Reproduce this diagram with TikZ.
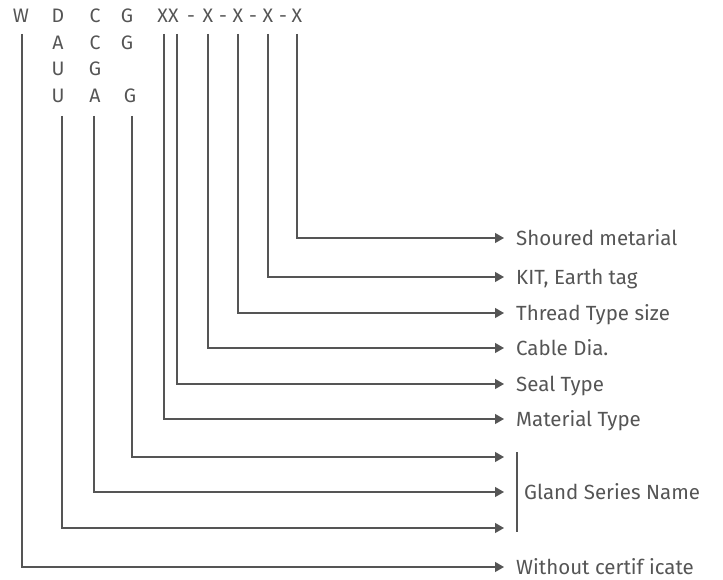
\documentclass[tikz,border=0pt]{standalone}
\usepackage{fontspec}
\setmainfont{Fira Sans}
\usetikzlibrary{arrows.meta}
\definecolor{linegray}{HTML}{555555}
\definecolor{textgray}{HTML}{555555}
\begin{document}
\begin{tikzpicture}[x=1pt,y=-1pt,
			letter/.style = {anchor=base,inner sep=0pt,text=textgray,font=\fontsize{19.5}{19.5}\selectfont},
			desc/.style = {anchor=west,inner xsep=12pt,inner ysep=0pt,text height=15pt,text depth=0pt,
				text=textgray,font=\fontsize{20.5}{20.5}\selectfont},
			link/.style = {draw=linegray,line width=1.2pt,-{Triangle[length=9pt,width=10pt]}}]
			\useasboundingbox (0,0) rectangle (723,580);
			% code letters
			\node [letter] (w) at (21,23) {W};
			\node [letter] (d1) at (58,23) {D};
			\node [letter] (c1) at (95,23) {C};
			\node [letter] (g1) at (127,23) {G};
			\node [letter] (xx) at (168,23) {XX};
			\node [letter] (h1) at (191,23) {-};
			\node [letter] (x1) at (208,23) {X};
			\node [letter] (h2) at (223,23) {-};
			\node [letter] (x2) at (238,23) {X};
			\node [letter] (h3) at (253,23) {-};
			\node [letter] (x3) at (268,23) {X};
			\node [letter] (h4) at (283,23) {-};
			\node [letter] (x4) at (297,23) {X};
			\node [letter] (d2) at (58,50) {A};
			\node [letter] (c2) at (95,50) {C};
			\node [letter] (g2) at (127,50) {G};
			\node [letter] (d3) at (58,76) {U};
			\node [letter] (c3) at (95,76) {G};
			\node [letter] (d4) at (58,103) {U};
			\node [letter] (c4) at (95,103) {A};
			\node [letter] (g4) at (130,103) {G};
			% descriptions
			\node [desc] (shoured) at (504,238) {Shoured metarial};
			\node [desc] (kit) at (504,277) {KIT, Earth tag};
			\node [desc] (thread) at (504,313) {Thread Type size};
			\node [desc] (cable) at (504,348) {Cable Dia.};
			\node [desc] (seal) at (504,384) {Seal Type};
			\node [desc] (material) at (504,419) {Material Type};
			\node [desc, inner xsep=7pt] (gland) at (517,492) {Gland Series Name};
			\node [desc] (without) at (504,567) {Without certif icate};
			\coordinate (gs1) at (504,457);
			\coordinate (gs2) at (504,492);
			\coordinate (gs3) at (504,528);
			% line tops
			\coordinate (tw) at (22,34);
			\coordinate (tm) at (164,34);
			\coordinate (ts) at (177,34);
			\coordinate (tc) at (208,34);
			\coordinate (tt) at (238,34);
			\coordinate (tk) at (268,34);
			\coordinate (tsh) at (297,34);
			\coordinate (tg) at (132,116);
			\coordinate (ta) at (94,116);
			\coordinate (tu) at (62,116);
			\draw [link] (tsh) |- (shoured.west);
			\draw [link] (tk) |- (kit.west);
			\draw [link] (tt) |- (thread.west);
			\draw [link] (tc) |- (cable.west);
			\draw [link] (ts) |- (seal.west);
			\draw [link] (tm) |- (material.west);
			\draw [link] (tg) |- (gs1);
			\draw [link] (ta) |- (gs2);
			\draw [link] (tu) |- (gs3);
			\draw [link] (tw) |- (without.west);
			\draw [draw=linegray,line width=1.2pt] (517,452) -- (517,532);
		\end{tikzpicture}
\end{document}
